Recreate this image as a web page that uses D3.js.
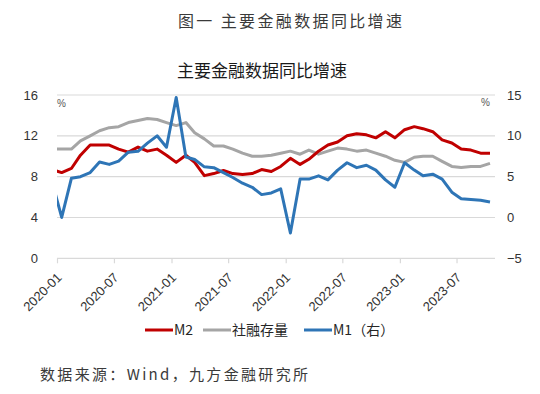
<!DOCTYPE html>
<html>
<head>
<meta charset="utf-8">
<script src="https://cdn.jsdelivr.net/npm/d3@7"></script>
<style>
  body { margin: 0; background: #fff; }
  text { font-family: "Liberation Sans", Arial, sans-serif; }
  .cjk { font-family: "Noto Sans CJK SC", sans-serif; }
</style>
</head>
<body>
<div id="chart-area"></div>
<script>
// data: monthly, starting 2019-12 (first point sits outside the plot and is clipped)
var startMonth = "2019-12";
var m2 = [8.7,
  8.4, 8.8, 10.1, 11.1, 11.1, 11.1, 10.7, 10.4, 10.9, 10.5, 10.7, 10.1,
  9.4, 10.1, 9.4, 8.1, 8.3, 8.6, 8.3, 8.2, 8.3, 8.7, 8.5, 9.0,
  9.8, 9.2, 9.7, 10.5, 11.1, 11.4, 12.0, 12.2, 12.1, 11.8, 12.4, 11.8,
  12.6, 12.9, 12.7, 12.4, 11.6, 11.3, 10.7, 10.6, 10.3, 10.3];
var sf = [10.7,
  10.7, 10.7, 11.5, 12.0, 12.5, 12.8, 12.9, 13.3, 13.5, 13.7, 13.6, 13.3,
  13.0, 13.3, 12.3, 11.7, 11.0, 11.0, 10.7, 10.3, 10.0, 10.0, 10.1, 10.3,
  10.5, 10.2, 10.6, 10.2, 10.5, 10.8, 10.7, 10.5, 10.6, 10.3, 10.0, 9.6,
  9.4, 9.9, 10.0, 10.0, 9.5, 9.0, 8.9, 9.0, 9.0, 9.3];
var m1 = [4.4,
  0.0, 4.8, 5.0, 5.5, 6.8, 6.5, 6.9, 8.0, 8.1, 9.1, 10.0, 8.6,
  14.7, 7.4, 7.1, 6.2, 6.1, 5.5, 4.9, 4.2, 3.7, 2.8, 3.0, 3.5,
  -1.9, 4.7, 4.7, 5.1, 4.6, 5.8, 6.7, 6.1, 6.4, 5.8, 4.6, 3.7,
  6.7, 5.8, 5.1, 5.3, 4.7, 3.1, 2.3, 2.2, 2.1, 1.9];

var xTickLabels = ["2020-01", "2020-07", "2021-01", "2021-07",
                   "2022-01", "2022-07", "2023-01", "2023-07"];
var leftTicks = [0, 4, 8, 12, 16];
var rightTicks = [-5, 0, 5, 10, 15];

var seriesNames = ["M2", "社融存量", "M1（右）"];
var seriesColors = ["#C00000", "#A5A5A5", "#2E75B6"];

var width = 540, height = 394;
var plot = {left: 57, right: 495, top: 95, bottom: 258.3};

var svg = d3.select("#chart-area")
    .append("svg")
        .attr("width", width)
        .attr("height", height);

var parseMonth = d3.utcParse("%Y-%m");
var start = parseMonth(startMonth);

// each monthly point sits mid-month
function pointDate(i) {
    return d3.utcDay.offset(d3.utcMonth.offset(start, i), 15);
}

//Scales
var xScale = d3.scaleUtc()
    .domain([parseMonth("2020-01"), parseMonth("2023-11")])
    .range([plot.left, plot.right]);

var yLeft = d3.scaleLinear()
    .domain([0, 16])
    .range([plot.bottom, plot.top]);

var yRight = d3.scaleLinear()
    .domain([-5, 15])
    .range([plot.bottom, plot.top]);

//Titles
svg.append("text")
    .attr("class", "cjk")
    .attr("x", 178)
    .attr("y", 27)
    .attr("font-size", "16px")
    .attr("fill", "#3a3a3a")
    .attr("textLength", 224)
    .attr("lengthAdjust", "spacing")
    .text("图一  主要金融数据同比增速");

svg.append("text")
    .attr("class", "cjk")
    .attr("x", 262)
    .attr("y", 77)
    .attr("font-size", "17px")
    .attr("fill", "#1a1a1a")
    .attr("text-anchor", "middle")
    .text("主要金融数据同比增速");

//Gridlines
svg.append("g")
    .selectAll("line")
    .data(leftTicks)
    .enter().append("line")
        .attr("x1", plot.left)
        .attr("x2", plot.right)
        .attr("y1", function(d){ return yLeft(d); })
        .attr("y2", function(d){ return yLeft(d); })
        .attr("stroke", "#D9D9D9")
        .attr("stroke-width", 1.2);

//x axis
var xTickDates = xTickLabels.map(parseMonth);
var xAxisCall = d3.axisBottom(xScale)
    .tickValues(xTickDates)
    .tickSize(5)
    .tickFormat(d3.utcFormat("%Y-%m"));

var xAxis = svg.append("g")
    .attr("transform", "translate(0," + plot.bottom + ")")
    .call(xAxisCall);
xAxis.select(".domain").remove();
xAxis.selectAll(".tick line").attr("stroke", "#D9D9D9").attr("stroke-width", 1.2);
xAxis.selectAll(".tick text")
    .attr("font-size", "13px")
    .attr("fill", "#333")
    .attr("text-anchor", "end")
    .attr("dy", null)
    .attr("y", 0)
    .attr("transform", "translate(5,20) rotate(-45)");

//left axis
var leftAxis = svg.append("g")
    .attr("transform", "translate(" + plot.left + ",0)")
    .call(d3.axisLeft(yLeft).tickValues(leftTicks).tickSize(0).tickPadding(19));
leftAxis.select(".domain").remove();
leftAxis.selectAll("text").attr("font-size", "13px").attr("fill", "#333");

//right axis
var rightAxis = svg.append("g")
    .attr("transform", "translate(" + plot.right + ",0)")
    .call(d3.axisRight(yRight).tickValues(rightTicks).tickSize(0).tickPadding(12));
rightAxis.select(".domain").remove();
rightAxis.selectAll("text").attr("font-size", "13px").attr("fill", "#333");

// % units
svg.append("text")
    .attr("x", 57).attr("y", 107)
    .attr("font-size", "10px").attr("fill", "#555")
    .text("%");
svg.append("text")
    .attr("x", 481).attr("y", 106)
    .attr("font-size", "10px").attr("fill", "#555")
    .text("%");

//Lines
svg.append("clipPath")
    .attr("id", "plot-clip")
  .append("rect")
    .attr("x", plot.left)
    .attr("y", 0)
    .attr("width", plot.right - plot.left)
    .attr("height", height);

var lineLeft = d3.line()
    .x(function(d, i){ return xScale(pointDate(i)); })
    .y(function(d){ return yLeft(d); });
var lineRight = d3.line()
    .x(function(d, i){ return xScale(pointDate(i)); })
    .y(function(d){ return yRight(d); });

var lines = svg.append("g").attr("clip-path", "url(#plot-clip)");
[[sf, lineLeft, 1], [m2, lineLeft, 0], [m1, lineRight, 2]].forEach(function(s){
    lines.append("path")
        .datum(s[0])
        .attr("d", s[1])
        .attr("fill", "none")
        .attr("stroke", seriesColors[s[2]])
        .attr("stroke-width", 3)
        .attr("stroke-linejoin", "round");
});

//legend
var legendX = [145, 203, 304];
var legend = svg.append("g").attr("transform", "translate(0,330)");
seriesNames.forEach(function(name, i){
    var row = legend.append("g")
        .attr("transform", "translate(" + legendX[i] + ",0)");
    row.append("line")
        .attr("x1", 0).attr("x2", 28)
        .attr("stroke", seriesColors[i])
        .attr("stroke-width", 3);
    row.append("text")
        .attr("class", "cjk")
        .attr("x", 29)
        .attr("y", 5)
        .attr("font-size", "14px")
        .attr("fill", "#262626")
        .text(name);
});

//source note
svg.append("text")
    .attr("class", "cjk")
    .attr("x", 40)
    .attr("y", 380)
    .attr("font-size", "15px")
    .attr("fill", "#3a3a3a")
    .attr("textLength", 268)
    .attr("lengthAdjust", "spacing")
    .text("数据来源：Wind，九方金融研究所");
</script>
</body>
</html>
